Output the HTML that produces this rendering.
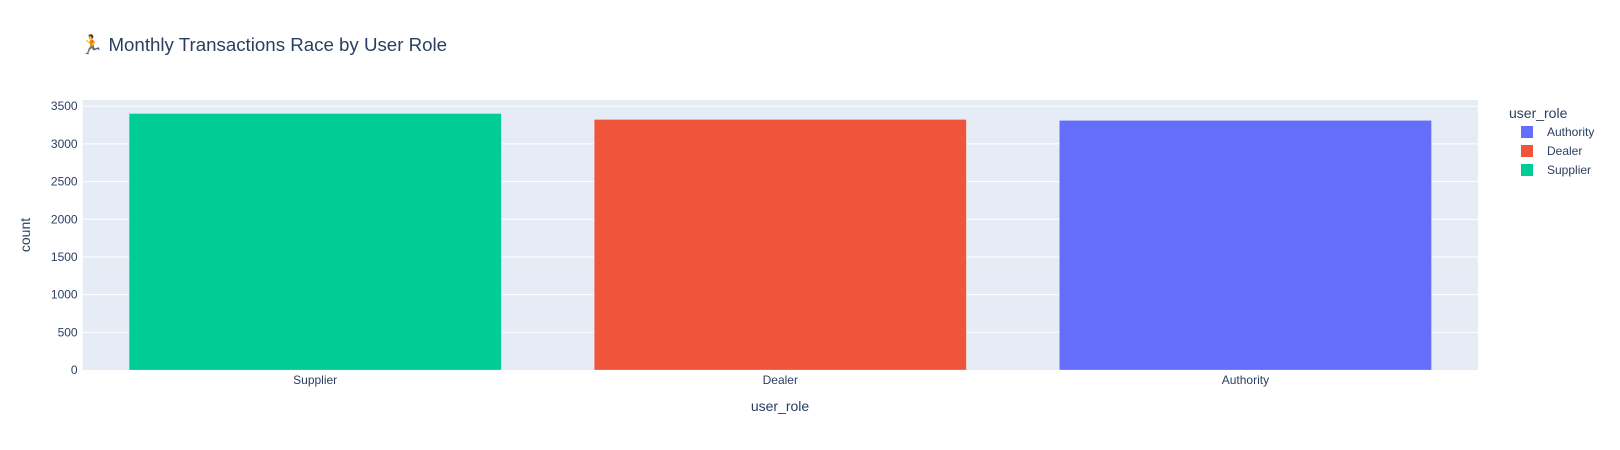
<!DOCTYPE html>
<html><head><meta charset="utf-8"><style>
body{margin:0;background:#fff;}
svg{display:block;font-family:"Liberation Sans","DejaVu Sans",sans-serif;}
</style></head><body>
<svg id="chart" width="1620" height="450">
<text x="80" y="51" font-size="18.7" fill="#2a3f5f">🏃 Monthly Transactions Race by User Role</text>
<rect id="plotbg" x="82.6" y="100" width="1395.4" height="270" fill="#e5ecf6"></rect>
<g id="grid"></g><g id="bars"></g><g id="yticks"></g><g id="xticks"></g>
<text x="780" y="411" font-size="14" fill="#2a3f5f" text-anchor="middle">user_role</text>
<text x="30" y="235" font-size="14" fill="#2a3f5f" text-anchor="middle" transform="rotate(-90 30 235)">count</text>
<g>
<text x="1509" y="118" font-size="14" fill="#2a3f5f">user_role</text>
<g id="legend"></g>
</g>
</svg>
<script>
const categories = ["Supplier", "Dealer", "Authority"];
const counts = [3403, 3324, 3311];
const colors = ["#00cc96", "#ef553b", "#636efa"];
const yTicks = [0, 500, 1000, 1500, 2000, 2500, 3000, 3500];
const legendOrder = ["Authority", "Dealer", "Supplier"];
const legendColors = ["#636efa", "#ef553b", "#00cc96"];

const NS = "http://www.w3.org/2000/svg";
const L = 82.6, R = 1478, T = 100, B = 370;
const yMax = Math.max(...counts) / 0.95;
const y = v => B - (v / yMax) * (B - T);
const bw = (R - L) / categories.length;
const x = i => L + bw * (i + 0.5);
function mk(tag, attrs, parent, txt){const e=document.createElementNS(NS,tag);for(const k in attrs)e.setAttribute(k,attrs[k]);if(txt!==undefined)e.textContent=txt;parent.appendChild(e);return e;}
const grid=document.getElementById('grid'), yt=document.getElementById('yticks');
yTicks.forEach(v=>{
  if(v>0){const g=mk('line',{x1:L,x2:R,y1:y(v),y2:y(v),stroke:'#fff','stroke-width':1},grid);
  
  }
  const t=mk('text',{x:L-5,y:y(v)+4,'font-size':12,fill:'#2a3f5f','text-anchor':'end'},yt,String(v));
  
  
});
const bars=document.getElementById('bars'), xt=document.getElementById('xticks');
categories.forEach((c,i)=>{
  const w=bw*0.8;
  const r=mk('rect',{x:x(i)-w/2,y:y(counts[i]),width:w,height:B-y(counts[i]),fill:colors[i],stroke:'rgba(255,255,255,0.5)','stroke-width':0.5},bars);
  
  
  const t=mk('text',{x:x(i),y:B+14,'font-size':12,fill:'#2a3f5f','text-anchor':'middle'},xt,c);
  
  
});
const lg=document.getElementById('legend');
legendOrder.forEach((n,i)=>{
  const cy=132+i*19;
  const g=mk('g',{},lg);
  
  
  mk('rect',{x:1521,y:cy-6,width:12,height:12,fill:legendColors[i]},g);
  mk('text',{x:1547,y:cy+4,'font-size':12,fill:'#2a3f5f'},g,n);
});
</script>
</body></html>
